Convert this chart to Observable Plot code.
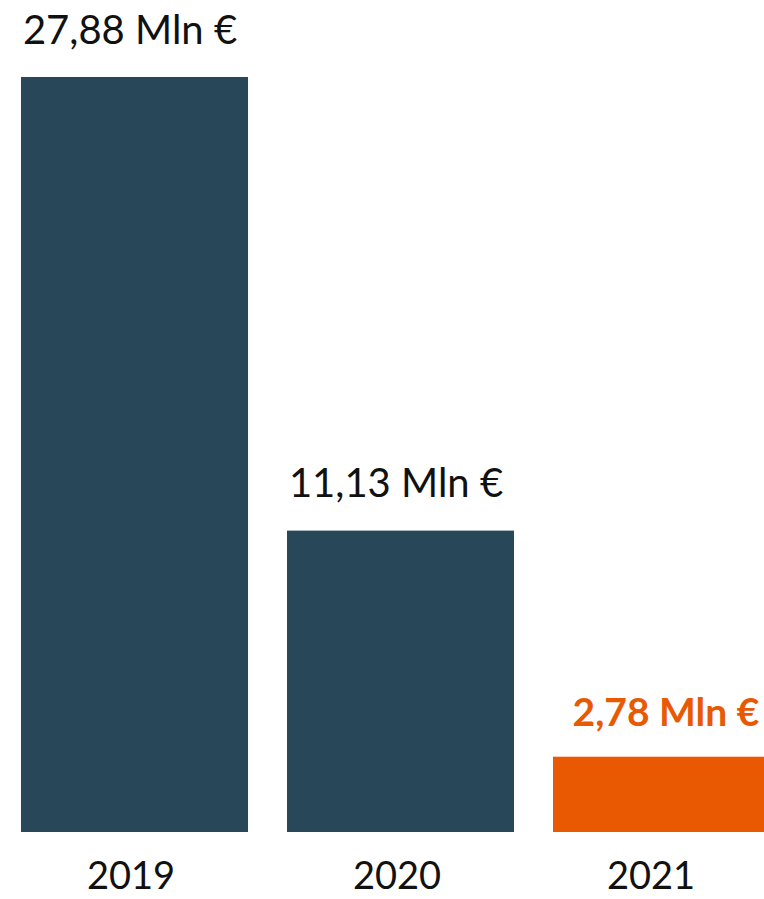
<!DOCTYPE html>
<html>
<head>
<meta charset="utf-8">
<script src="https://cdn.jsdelivr.net/npm/d3@7"></script>
<script src="https://cdn.jsdelivr.net/npm/@observablehq/plot@0.6"></script>
<style>
  html, body { margin: 0; padding: 0; background: #fff; overflow: hidden; }
  #chart svg { display: block; }
</style>
</head>
<body>
<div id="chart"></div>
<script>
const years = ["2019", "2020", "2021"];
const values = [27.88, 11.13, 2.78];
const valueLabels = ["27,88 Mln €", "11,13 Mln €", "2,78 Mln €"];
const highlightYear = "2021";

const data = years.map((y, i) => ({year: y, value: values[i], label: valueLabels[i]}));
const normal = data.filter(d => d.year !== highlightYear);
const highlight = data.filter(d => d.year === highlightYear);
const DARK = "#284859";
const ORANGE = "#E85902";

const chart = Plot.plot({
  width: 764,
  height: 899,
  marginTop: 0,
  marginBottom: 0,
  marginLeft: 0,
  marginRight: 0,
  style: {fontFamily: "Lato, sans-serif", background: "#fff", overflow: "hidden"},
  x: {domain: years, range: [20, 780], paddingInner: 0.148, paddingOuter: 0, axis: null},
  y: {domain: [0, 27.88], range: [832, 77], axis: null},
  marks: [
    Plot.barY(normal, {x: "year", y: "value", fill: DARK, clip: true}),
    Plot.barY(highlight, {x: "year", y: "value", fill: ORANGE, clip: true}),
    Plot.text(normal, {
      x: "year", y: "value", text: "label",
      fill: "#111", dy: -34, dx: -5, lineAnchor: "bottom",
      fontSize: 40
    }),
    Plot.text(highlight, {
      x: "year", y: "value", text: "label",
      fill: ORANGE, dy: -31, dx: -1, lineAnchor: "bottom",
      fontSize: 39, fontWeight: "bold"
    }),
    Plot.text(normal, {
      x: "year", y: 0, text: "year",
      fill: "#111", dy: 30, dx: -4, lineAnchor: "top",
      fontSize: 38
    }),
    Plot.text(highlight, {
      x: "year", y: 0, text: "year",
      fill: "#111", dy: 30, dx: -16, lineAnchor: "top",
      fontSize: 38
    })
  ]
});
document.getElementById("chart").appendChild(chart);
</script>
</body>
</html>
